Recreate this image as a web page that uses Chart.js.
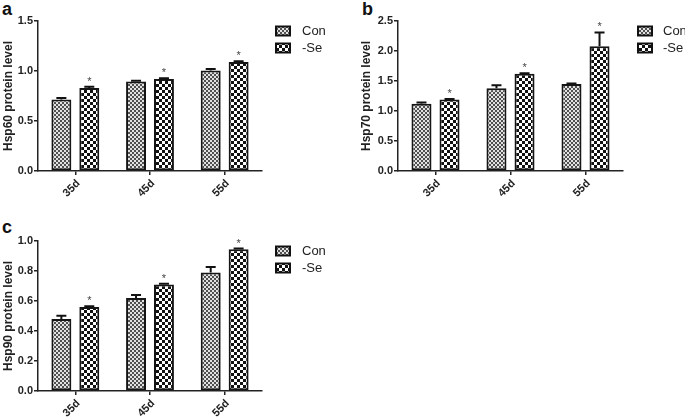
<!DOCTYPE html>
<html><head><meta charset="utf-8">
<script src="https://cdn.jsdelivr.net/npm/chart.js@4.4.1/dist/chart.umd.min.js"></script>
<style>
html,body{margin:0;padding:0;background:#fff;}
body{width:685px;height:418px;position:relative;overflow:hidden;font-family:Arial,"Liberation Sans",sans-serif;}
canvas{position:absolute;}
.lbl{position:absolute;font:bold 18px Arial,"Liberation Sans",sans-serif;line-height:18px;color:#111;}
</style></head><body>
<div class="lbl" style="left:2px;top:0px">a</div>
<div class="lbl" style="left:362px;top:0px">b</div>
<div class="lbl" style="left:2px;top:218px">c</div>
<canvas id="ca" width="345" height="210" style="left:0;top:0"></canvas>
<canvas id="cb" width="340" height="210" style="left:345px;top:0"></canvas>
<canvas id="cc" width="345" height="198" style="left:0;top:220px"></canvas>
<script>
// ---- data ----
const categories = ['35d', '45d', '55d'];
const seriesNames = ['Con', '-Se'];
const sigMarks = ['*', '*', '*'];

const hsp60Con = [0.715, 0.895, 1.005];
const hsp60ConErr = [0.015, 0.008, 0.015];
const hsp60Se = [0.83, 0.92, 1.09];
const hsp60SeErr = [0.012, 0.008, 0.008];

const hsp70Con = [1.12, 1.38, 1.45];
const hsp70ConErr = [0.02, 0.05, 0.01];
const hsp70Se = [1.19, 1.62, 2.08];
const hsp70SeErr = [0.01, 0.01, 0.23];

const hsp90Con = [0.48, 0.62, 0.79];
const hsp90ConErr = [0.022, 0.02, 0.037];
const hsp90Se = [0.56, 0.71, 0.945];
const hsp90SeErr = [0.005, 0.005, 0.005];

const ticks60 = [0, 0.5, 1.0, 1.5];
const ticks70 = [0, 0.5, 1.0, 1.5, 2.0, 2.5];
const ticks90 = [0, 0.2, 0.4, 0.6, 0.8, 1.0];

const title60 = 'Hsp60 protein level';
const title70 = 'Hsp70 protein level';
const title90 = 'Hsp90 protein level';

// ---- styling helpers ----
const FONT = 'Arial, "Liberation Sans", Helvetica, sans-serif';
function makePattern(cell, c1, c2) {
  const c = document.createElement('canvas');
  c.width = c.height = cell * 2;
  const x = c.getContext('2d');
  x.fillStyle = c2; x.fillRect(0, 0, cell * 2, cell * 2);
  x.fillStyle = c1; x.fillRect(0, 0, cell, cell); x.fillRect(cell, cell, cell, cell);
  return x.createPattern(c, 'repeat');
}
const patCon = makePattern(2, '#505050', '#e2e2e2');
const patSe = makePattern(3, '#111111', '#ffffff');

const errorBarPlugin = {
  id: 'errorBars',
  afterDatasetsDraw(chart) {
    const ctx = chart.ctx, ys = chart.scales.y;
    chart.data.datasets.forEach((ds, di) => {
      const meta = chart.getDatasetMeta(di);
      meta.data.forEach((bar, i) => {
        const top = ys.getPixelForValue(ds.data[i] + ds.errors[i]);
        ctx.save();
        ctx.strokeStyle = '#111'; ctx.lineWidth = 2;
        ctx.beginPath();
        ctx.moveTo(bar.x, bar.y); ctx.lineTo(bar.x, top);
        ctx.moveTo(bar.x - 5, top); ctx.lineTo(bar.x + 5, top);
        ctx.stroke();
        if (ds.marks && ds.marks[i]) {
          ctx.fillStyle = '#444'; ctx.font = '11px ' + FONT;
          ctx.textAlign = 'center'; ctx.textBaseline = 'alphabetic';
          ctx.fillText(ds.marks[i], bar.x, top - 2);
        }
        ctx.restore();
      });
    });
  }
};

const boxLegend = {
  id: 'boxLegend',
  afterDraw(chart, args, o) {
    const ctx = chart.ctx;
    chart.data.datasets.forEach((ds, i) => {
      const cy = o.y + i * o.dy;
      ctx.save();
      ctx.fillStyle = ds.backgroundColor;
      ctx.fillRect(o.x, cy - o.h / 2, o.w, o.h);
      ctx.strokeStyle = '#111'; ctx.lineWidth = 2;
      ctx.strokeRect(o.x, cy - o.h / 2, o.w, o.h);
      ctx.fillStyle = '#222'; ctx.font = '13px ' + FONT;
      ctx.textAlign = 'left'; ctx.textBaseline = 'middle';
      ctx.fillText(ds.label, o.textX, cy + 0.5);
      ctx.restore();
    });
  }
};

function makeChart(id, con, conErr, se, seErr, yTicks, yTitle, lay) {
  const ymax = yTicks[yTicks.length - 1];
  const step = yTicks[1] - yTicks[0];
  return new Chart(document.getElementById(id), {
    type: 'bar',
    data: {
      labels: categories,
      datasets: [
        { label: seriesNames[0], data: con, errors: conErr, backgroundColor: patCon,
          borderColor: '#151515', borderWidth: 2, borderSkipped: false,
          categoryPercentage: 0.748, barPercentage: 0.714 },
        { label: seriesNames[1], data: se, errors: seErr, marks: sigMarks, backgroundColor: patSe,
          borderColor: '#151515', borderWidth: 2, borderSkipped: false,
          categoryPercentage: 0.748, barPercentage: 0.714 }
      ]
    },
    options: {
      responsive: false, animation: false, devicePixelRatio: 1,
      layout: { padding: { top: lay.top, right: lay.right, left: 0, bottom: 0 } },
      plugins: { legend: { display: false }, tooltip: { enabled: false },
        boxLegend: lay.legend },
      scales: {
        x: {
          type: 'category', offset: true,
          grid: { offset: false, drawOnChartArea: false, drawTicks: true, tickLength: 4, color: '#222', lineWidth: 1.5 },
          border: { display: true, color: '#222', width: 1.5 },
          ticks: { color: '#222', font: { family: FONT, size: 11, weight: 'bold' },
            minRotation: 45, maxRotation: 45, autoSkip: false, padding: 2, labelOffset: 3 },
          afterFit: s => { s.height = lay.xh; }
        },
        y: {
          min: 0, max: ymax,
          grid: { drawOnChartArea: false, drawTicks: true, tickLength: 4, color: '#222', lineWidth: 1.5 },
          border: { display: true, color: '#222', width: 1.5 },
          afterBuildTicks: s => { s.ticks = yTicks.map(v => ({ value: v })); },
          ticks: { color: '#222', font: { family: FONT, size: 11, weight: 'bold' }, padding: 1,
            stepSize: step, callback: v => Number(v).toFixed(1) },
          title: { display: true, text: yTitle, color: '#222',
            font: { family: FONT, size: 12, weight: 'bold' }, padding: { top: lay.tpad, bottom: 0 } },
          afterFit: s => { s.width = lay.yw; }
        }
      }
    },
    plugins: [errorBarPlugin, boxLegend]
  });
}

makeChart('ca', hsp60Con, hsp60ConErr, hsp60Se, hsp60SeErr, ticks60, title60,
  { top: 21, right: 83, yw: 38, xh: 39, tpad: 1,
    legend: { x: 276, y: 31, dy: 17, w: 14, h: 9, textX: 302 } });
makeChart('cb', hsp70Con, hsp70ConErr, hsp70Se, hsp70SeErr, ticks70, title70,
  { top: 21, right: 62, yw: 53, xh: 39, tpad: 14,
    legend: { x: 293, y: 31, dy: 17, w: 14, h: 9, textX: 318 } });
makeChart('cc', hsp90Con, hsp90ConErr, hsp90Se, hsp90SeErr, ticks90, title90,
  { top: 21, right: 83, yw: 38, xh: 27, tpad: 1,
    legend: { x: 276, y: 31, dy: 17, w: 14, h: 9, textX: 302 } });
</script>
</body></html>
